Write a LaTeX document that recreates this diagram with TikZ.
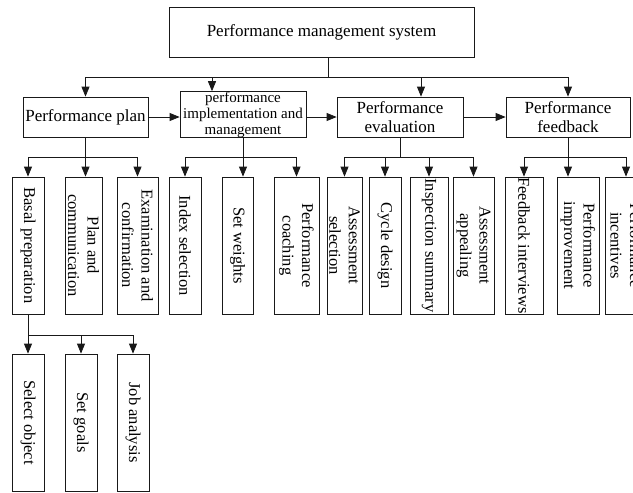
\documentclass[tikz,border=0pt]{standalone}
\usepackage{fontspec}
\setmainfont{Liberation Serif}
\usetikzlibrary{arrows.meta}
\begin{document}
\begin{tikzpicture}[x=1pt,y=-1pt,
		box/.style={draw=black!90, line width=0.75pt, inner sep=0pt, align=center, font=\fontsize{17}{19}\selectfont},
		vbox/.style={box, rotate=-90, minimum width=137pt, font=\fontsize{16.5}{19.5}\selectfont},
		arr/.style={draw=black!90, line width=0.75pt, -{Triangle[length=10pt,width=8pt]}},
		link/.style={draw=black!90, line width=0.75pt}]
		\useasboundingbox (0,0) rectangle (633,493);
		\clip (0,0) rectangle (633,493);
		\node[box, minimum width=305pt, minimum height=50pt] (pms) at (321.5,32) {Performance management system};
		\node[box, minimum width=125pt, minimum height=40pt] (plan) at (85.5,117) {Performance plan};
		\node[box, minimum width=126pt, minimum height=45pt, font=\fontsize{15}{16}\selectfont] (impl) at (243,114.5) {performance\\implementation and\\management};
		\node[box, minimum width=126pt, minimum height=40pt] (eval) at (400,117) {Performance\\evaluation};
		\node[box, minimum width=124pt, minimum height=40pt] (feed) at (568,117) {Performance\\feedback};
		\node[vbox, minimum height=32pt] (basal) at (28,245.5) {Basal preparation};
		\node[vbox, minimum height=37pt] (pcomm) at (83.5,245.5) {Plan and\\communication};
		\node[vbox, minimum height=41pt] (exam) at (137.5,245.5) {Examination and\\confirmation};
		\node[vbox, minimum height=32pt] (index) at (185,245.5) {Index selection};
		\node[vbox, minimum height=31pt] (weights) at (237.5,245.5) {Set weights};
		\node[vbox, minimum height=45pt] (coach) at (296.5,245.5) {Performance\\coaching};
		\node[vbox, minimum height=35pt] (asel) at (344.5,245.5) {Assessment\\selection};
		\node[vbox, minimum height=32pt] (cycle) at (385,245.5) {Cycle design};
		\node[vbox, minimum height=38pt] (insp) at (429,245.5) {Inspection summary};
		\node[vbox, minimum height=41pt] (appeal) at (473.5,245.5) {Assessment\\appealing};
		\node[vbox, minimum height=38pt] (fint) at (524,245.5) {Feedback interviews};
		\node[vbox, minimum height=42pt] (fimp) at (578,245.5) {Performance\\improvement};
		\node[vbox, minimum height=42pt] (finc) at (626,245.5) {Performance\\incentives};
		\node[vbox, minimum height=32pt] (selobj) at (28,422.5) {Select object};
		\node[vbox, minimum height=32pt] (goals) at (81,422.5) {Set goals};
		\node[vbox, minimum height=32pt] (job) at (133,422.5) {Job analysis};
		\coordinate (bus) at (328,77);
		\coordinate (pbus) at (85.5,157);
		\coordinate (ibus) at (243,157);
		\coordinate (ebus) at (400,157);
		\coordinate (fbus) at (568,157);
		\coordinate (bbus) at (28,335);
		\draw[link] (bus |- pms.south) -- (bus);
		\draw[arr] (bus) -| (plan);
		\draw[arr] (bus) -| ([xshift=-31pt]impl.north);
		\draw[arr] (bus) -| ([xshift=21pt]eval.north);
		\draw[arr] (bus) -| (feed);
		\draw[arr] (plan.east) -- (plan.east -| impl.west);
		\draw[arr] (eval.west -| impl.east) -- (eval.west);
		\draw[arr] (eval.east) -- (feed.west);
		\draw[link] (plan) -- (pbus);
		\draw[arr] (pbus) -| (basal);
		\draw[arr] (pbus) -- (pcomm.west -| pbus);
		\draw[arr] (pbus) -| (exam);
		\draw[link] (impl) -- (ibus);
		\draw[arr] (ibus) -| (index);
		\draw[arr] (ibus) -- (weights.west -| ibus);
		\draw[arr] (ibus) -| (coach);
		\draw[link] (eval) -- (ebus);
		\draw[arr] (ebus) -| (asel);
		\draw[arr] (ebus) -| (cycle);
		\draw[arr] (ebus) -| (insp);
		\draw[arr] (ebus) -| (appeal);
		\draw[link] (feed) -- (fbus);
		\draw[arr] (fbus) -| (fint);
		\draw[arr] (fbus) -- (fimp.west -| fbus);
		\draw[arr] (fbus) -| (finc);
		\draw[link] (basal) -- (bbus);
		\draw[arr] (bbus) -| (selobj);
		\draw[arr] (bbus) -| (goals);
		\draw[arr] (bbus) -| (job);
\end{tikzpicture}
\end{document}
